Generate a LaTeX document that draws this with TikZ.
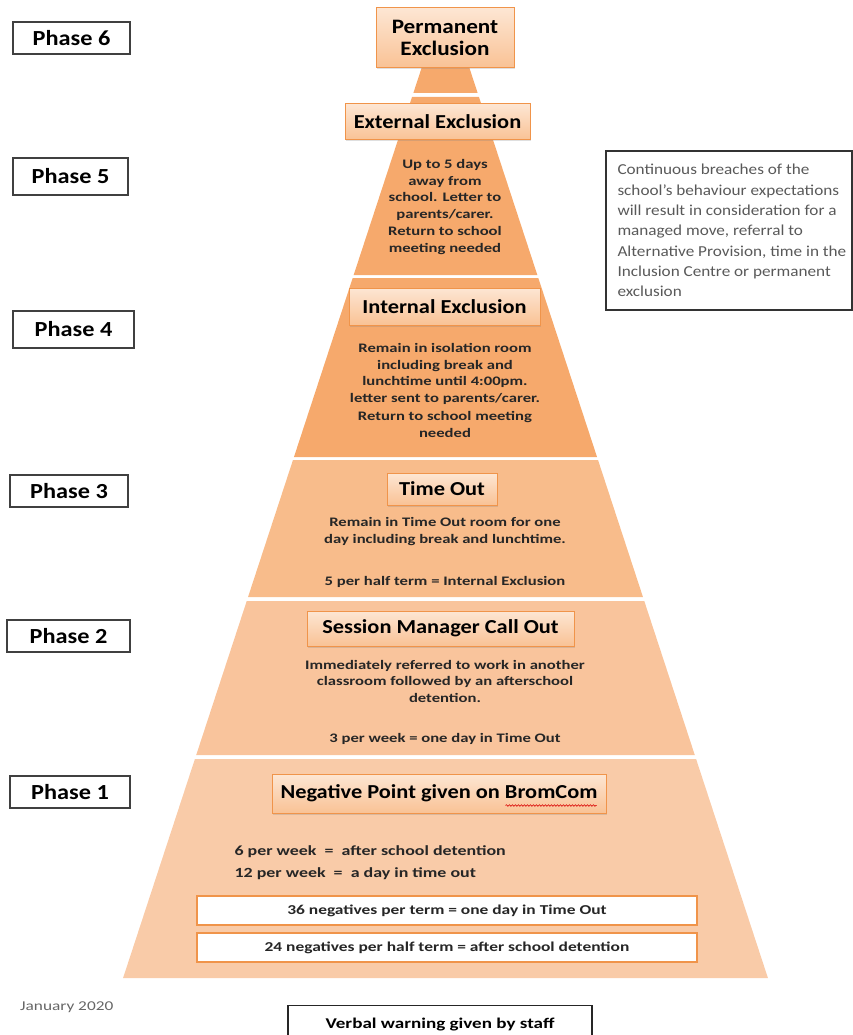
\documentclass[tikz,border=0pt]{standalone}
\usepackage{fontspec}
\setmainfont[FakeStretch=1.13]{Carlito}
\newfontfamily\widefont[FakeStretch=1.28]{Carlito}
\usetikzlibrary{positioning,shadows,decorations.pathmorphing}

\definecolor{tierdark}{HTML}{F6A96C}
\definecolor{tiermid}{HTML}{F8BC8B}
\definecolor{tierlight}{HTML}{F9C49C}
\definecolor{tierpale}{HTML}{F9CBA8}
\definecolor{tierline}{HTML}{F0944A}
\definecolor{boxtop}{HTML}{FDE6D3}
\definecolor{boxbottom}{HTML}{F9C295}

\tikzset{
  phasebox/.style={draw=black!75,line width=1.4pt,fill=white,inner sep=0pt,
    font=\bfseries\fontsize{21.5}{24}\selectfont},
  tierbox/.style={draw=tierline,line width=1pt,top color=boxtop,bottom color=boxbottom,
    inner sep=0pt,align=center,drop shadow={opacity=0.25,shadow xshift=1pt,shadow yshift=-1.5pt},
    font=\bfseries\fontsize{19.8}{22}\selectfont},
  tiertext/.style={align=center,text=black!85,font=\widefont\bfseries\fontsize{13}{16.5}\selectfont},
  countbox/.style={draw=tierline,line width=2pt,fill=white,inner sep=0pt,
    minimum width=500,minimum height=29,text=black!85,font=\widefont\bfseries\fontsize{13.6}{15}\selectfont}
}

\begin{document}
\begin{tikzpicture}[x=1pt,y=-1pt]
\useasboundingbox (0,0) rectangle (853,1035);

\foreach \ya/\yb/\col in {50/93/tierdark,97/275/tierdark,278/457/tierdark,460/597/tiermid,601/755/tierlight,759/978/tierpale}
  \fill[\col] ({445.5-(\ya+5)*0.328},\ya) -- ({445.5+(\ya+5)*0.328},\ya)
    -- ({445.5+(\yb+5)*0.328},\yb) -- ({445.5-(\yb+5)*0.328},\yb) -- cycle;

\node[phasebox,minimum width=117,minimum height=32] (p6) at (71.5,38) {Phase 6};
\node[phasebox,minimum width=115,minimum height=37] (p5) at (70.5,176.5) {Phase 5};
\node[phasebox,minimum width=121,minimum height=37] (p4) at (73.5,329.5) {Phase 4};
\node[phasebox,minimum width=118,minimum height=32] (p3) at (69,491) {Phase 3};
\node[phasebox,minimum width=123,minimum height=32] (p2) at (68.5,636) {Phase 2};
\node[phasebox,minimum width=120,minimum height=32] (p1) at (70,792) {Phase 1};

\node[tierbox,minimum width=138,minimum height=60,font=\bfseries\fontsize{20.5}{22}\selectfont] (perm) at (445,38) {Permanent\\Exclusion};
\node[tierbox,minimum width=185,minimum height=36] (ext) at (437.5,122) {External Exclusion};
\node[tierbox,minimum width=191,minimum height=37] (int) at (444.5,306.5) {Internal Exclusion};
\node[tierbox,minimum width=110,minimum height=32] (tout) at (442,489) {Time Out};
\node[tierbox,minimum width=267,minimum height=35] (smco) at (440.5,628.5) {Session Manager Call Out};
\node[tierbox,minimum width=334,minimum height=39] (neg) at (439,793.5) {Negative Point given on BromCom};
\draw[red!85!black,line width=0.6pt,decorate,decoration={snake,amplitude=0.8pt,segment length=3pt}]
  ([xshift=-101pt,yshift=8pt]neg.south east) -- ([xshift=-10pt,yshift=8pt]neg.south east);

\node[tiertext] (extinfo) at (445,190) {Up to 5 days\\away from\\school. Letter to\\parents/carer.};
\node[tiertext] (extmeet) at (445,240.5) {Return to school\\meeting needed};
\node[tiertext] (intinfo) at (445,374) {Remain in isolation room\\including break and\\lunchtime until 4:00pm.\\letter sent to parents/carer.};
\node[tiertext] (intmeet) at (445,424.5) {Return to school meeting\\needed};
\node[tiertext] (toutinfo) at (445,531.5) {Remain in Time Out room for one\\day including break and lunchtime.};
\node[tiertext] (toutcount) at (445,582) {5 per half term = Internal Exclusion};
\node[tiertext] (smcoinfo) at (445,681) {Immediately referred to work in another\\classroom followed by an afterschool\\detention.};
\node[tiertext] (smcocount) at (445,739) {3 per week = one day in Time Out};
\node[tiertext,align=left,anchor=west,font=\widefont\bfseries\fontsize{14}{22}\selectfont] (neginfo) at (231,863)
  {6 per week \ = \ after school detention\\12 per week \ = \ a day in time out};
\node[countbox] (c36) at (447,910.5) {36 negatives per term = one day in Time Out};
\node[countbox] (c24) at (447,947.5) {24 negatives per half term = after school detention};

\node[draw=black!80,line width=1.4pt,minimum width=246,minimum height=159] (note) at (729,230.5) {};
\node[anchor=west,align=left,inner sep=0pt,text=black!65,font=\fontsize{15.2}{20.3}\selectfont]
  (notetext) at ([xshift=12pt]note.west)
  {Continuous breaches of the\\school’s behaviour expectations\\will result in consideration for a\\managed move, referral to\\Alternative Provision, time in the\\Inclusion Centre or permanent\\exclusion};

\node[anchor=west,inner sep=0pt,text=black!60,font=\widefont\fontsize{13.5}{15}\selectfont] (date) at (20,1007) {January 2020};
\node[draw=black!85,line width=1.4pt,fill=white,anchor=north,minimum width=304,minimum height=38,
  font=\widefont\bfseries\fontsize{14.9}{17}\selectfont] (verbal) at (440,1005) {Verbal warning given by staff};
\end{tikzpicture}
\end{document}
